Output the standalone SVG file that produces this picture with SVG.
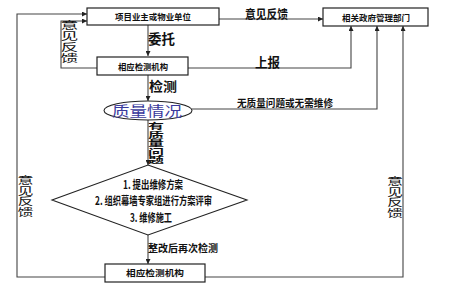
<svg xmlns="http://www.w3.org/2000/svg" width="450" height="286" viewBox="0 0 450 286">
<defs>
<marker id="ah" viewBox="0 0 10 10" refX="10" refY="5" markerWidth="5" markerHeight="5" orient="auto" markerUnits="userSpaceOnUse">
<path d="M0,0 L10,5 L0,10 z" fill="#222"/>
</marker>
<style>
.box{fill:#fff;stroke:#222;stroke-width:1.2}
.ln{fill:none;stroke:#444;stroke-width:1.1;marker-end:url(#ah)}
text{font-family:"Noto Sans CJK SC","Noto Sans CJK TC",sans-serif;font-weight:bold;fill:#111}
.sm{font-size:8.5px;text-anchor:middle}
.lb{font-size:12px}
.dt{font-size:11.5px;text-anchor:middle}
.vt{writing-mode:vertical-rl;font-weight:normal}
</style>
</defs>
<rect width="450" height="286" fill="#fff"/>
<g id="connectors">
<path class="ln" d="M219,19 H323"/>
<path class="ln" d="M148,25 V56"/>
<path class="ln" d="M148,75 V101"/>
<path class="ln" d="M188,68 H351 V26"/>
<path class="ln" d="M97,68 H61 V21 H87"/>
<path class="ln" d="M192,109 H377 V26"/>
<path class="ln" d="M148,120 V165"/>
<path class="ln" d="M148,235 V264"/>
<path class="ln" d="M205,277 H403 V26"/>
<path class="ln" d="M105,277 H17 V14 H87"/>
</g>
<g id="owner">
<rect class="box" x="87" y="8" width="132" height="17"/>
<text class="sm" x="153" y="20" textLength="76" lengthAdjust="spacingAndGlyphs">项目业主或物业单位</text>
</g>
<g id="gov">
<rect class="box" x="323" y="8" width="105" height="18"/>
<text class="sm" x="376" y="20.5" textLength="68" lengthAdjust="spacingAndGlyphs">相关政府管理部门</text>
</g>
<g id="inspect1">
<rect class="box" x="97" y="57" width="91" height="18"/>
<text class="sm" x="143" y="69.5" textLength="50" lengthAdjust="spacingAndGlyphs">相应检测机构</text>
</g>
<g id="quality">
<ellipse cx="148" cy="110.5" rx="44" ry="9.5" fill="#fff" stroke="#222" stroke-width="1.1"/>
<text x="147" y="115.5" style="font-size:14px;font-weight:normal;fill:#3a3a9c;text-anchor:middle" textLength="70" lengthAdjust="spacingAndGlyphs">质量情况</text>
</g>
<g id="repair">
<polygon points="148,165 247,200 148,235 52,200" fill="#fff" stroke="#222" stroke-width="1.1"/>
<text class="dt" x="153" y="188.5" textLength="60" lengthAdjust="spacingAndGlyphs">1. 提出维修方案</text>
<text class="dt" x="153.5" y="205" textLength="117" lengthAdjust="spacingAndGlyphs">2. 组织幕墙专家组进行方案评审</text>
<text class="dt" x="151" y="221.5" textLength="42" lengthAdjust="spacingAndGlyphs">3. 维修施工</text>
</g>
<g id="inspect2">
<rect class="box" x="105" y="264" width="100" height="18"/>
<text class="sm" x="155" y="276" textLength="58" lengthAdjust="spacingAndGlyphs">相应检测机构</text>
</g>
<g id="labels">
<text class="lb" x="245" y="19" textLength="43" lengthAdjust="spacingAndGlyphs">意见反馈</text>
<text class="lb" x="148" y="44" style="font-size:14px" textLength="27" lengthAdjust="spacingAndGlyphs">委托</text>
<text class="lb" x="255" y="67" style="font-size:13px" textLength="25" lengthAdjust="spacingAndGlyphs">上报</text>
<text class="lb" x="149" y="91" style="font-size:13px" textLength="28" lengthAdjust="spacingAndGlyphs">检测</text>
<text class="lb" x="237" y="107" style="font-size:10px" textLength="96" lengthAdjust="spacingAndGlyphs">无质量问题或无需维修</text>
<text class="lb" x="148" y="252" style="font-size:10px" textLength="70" lengthAdjust="spacingAndGlyphs">整改后再次检测</text>
<text class="vt" style="font-size:17px" transform="translate(69.5,20) scale(1.05,0.63)">意见反馈</text>
<text class="vt" style="font-size:16px" transform="translate(25.5,175) scale(1,0.66)">意见反馈</text>
<text class="vt" style="font-size:16px" transform="translate(395,176) scale(1,0.66)">意见反馈</text>
<text class="vt" style="font-size:16px;font-weight:bold" transform="translate(156,122) scale(1,0.525)">有质量问题</text>
</g>
</svg>
